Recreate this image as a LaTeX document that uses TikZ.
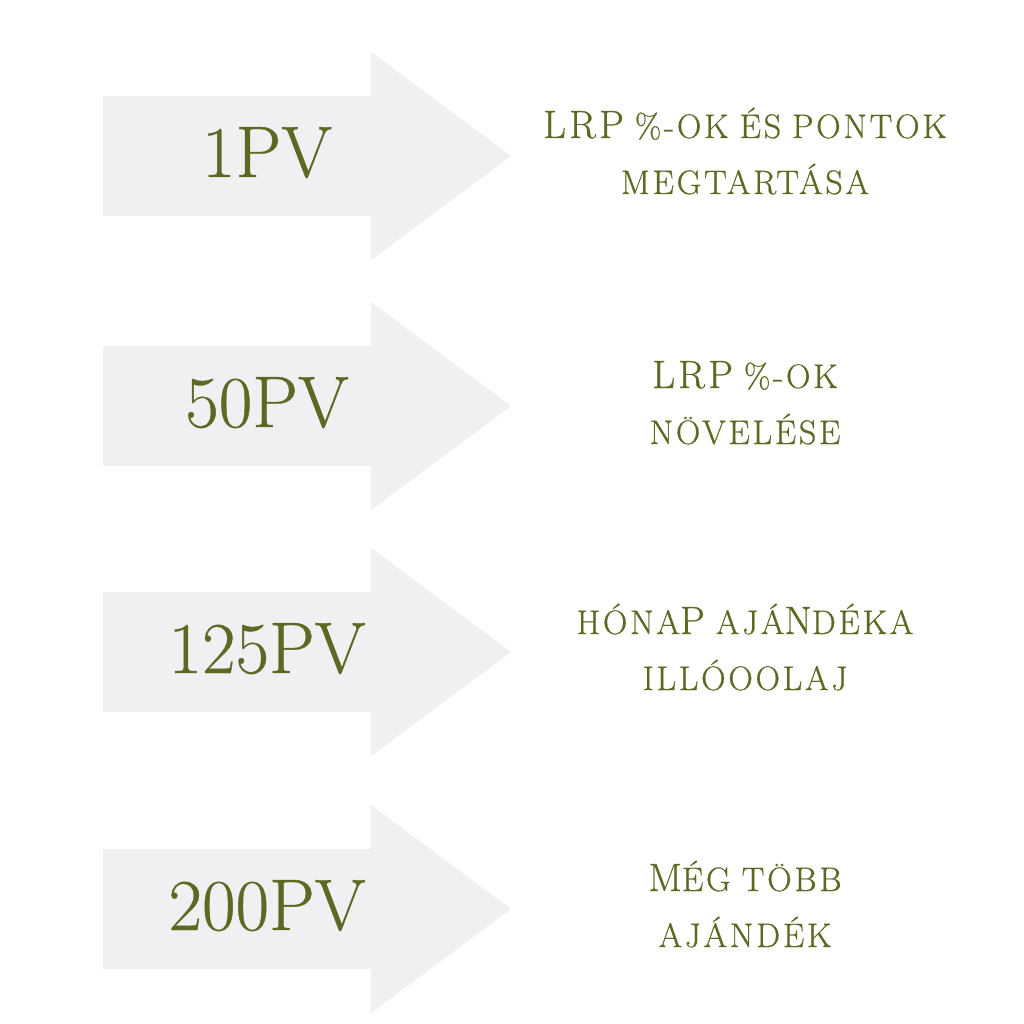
\documentclass[tikz,border=0pt]{standalone}
\usepackage{fontspec}
\newfontfamily\descfont[LetterSpace=8,WordSpace=0.85,FakeBold=0.6]{Latin Modern Roman}
\newfontfamily\pvfont[FakeBold=0.5]{Latin Modern Roman}
\newcommand\smc[1]{{\fontsize{34}{55}\selectfont\MakeUppercase{#1}}}
\definecolor{olive}{HTML}{5B6923}
\definecolor{arrowgray}{HTML}{EFF0F2}
\tikzset{
  bigarrow/.style={fill=arrowgray, draw=none},
  pvlabel/.style={anchor=base, inner sep=0pt, text=olive, font=\pvfont\fontsize{73}{80}\selectfont},
  desclabel/.style={anchor=base, inner sep=0pt, text=olive, font=\descfont\fontsize{39.5}{55}\selectfont},
}
\begin{document}
\begin{tikzpicture}[x=1pt,y=-1pt]
\useasboundingbox (0,0) rectangle (1024,1024);
\fill[white] (0,0) rectangle (1024,1024);
\foreach \c/\pv/\la/\lb [count=\i] in {
  156/1PV/{LRP\smc{ \%-ok és pontok}}/{\smc{megtartása}},
  406/50PV/{LRP\smc{ \%-ok}}/{\smc{növelése}},
  652/125PV/{\smc{hóna}P\smc{ ajá}N\smc{déka}}/{\smc{illóoolaj}},
  909/200PV/{M\smc{ég több}}/{\smc{ajándék}}}{
  \path[bigarrow] (103,\c-60) -- (371,\c-60) -- (371,\c-104) -- (511,\c)
     -- (371,\c+104) -- (371,\c+60) -- (103,\c+60) -- cycle;
  \node[pvlabel] (pv\i) at (267,\c+21) {\pv};
  \node[desclabel] (da\i) at (745,\c-18) {\la};
  \node[desclabel] (db\i) at (745,\c+38) {\lb};
}
\end{tikzpicture}
\end{document}
